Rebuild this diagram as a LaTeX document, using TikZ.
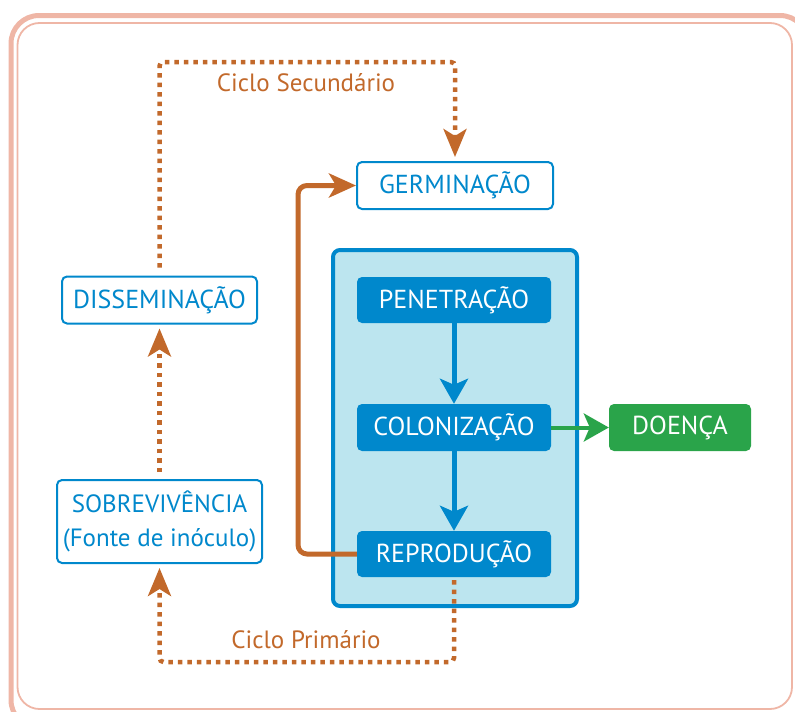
\documentclass[tikz,border=0pt]{standalone}
\usepackage{fontspec}
\setmainfont{PT Sans}
\usetikzlibrary{arrows.meta}

\definecolor{salmon}{HTML}{EFB6A6}
\definecolor{rust}{HTML}{C2692B}
\definecolor{azul}{HTML}{0088CC}
\definecolor{celeste}{HTML}{BCE5EF}
\definecolor{verde}{HTML}{2AA44A}

\begin{document}
\begin{tikzpicture}[x=1pt, y=-1pt]
    \tikzstyle{every node}=[inner sep=0pt, font=\fontsize{26}{34}\selectfont]
    \tikzstyle{openbox}=[draw=azul, line width=2pt, fill=white, rounded corners=5pt, text=azul, minimum height=47pt]
    \tikzstyle{fullbox}=[fill=azul, rounded corners=5pt, text=white, minimum width=194pt, minimum height=46pt]
    \tikzstyle{cycle}=[rust, line width=4.5pt, dash pattern=on 4.5pt off 5pt, rounded corners=4pt, -{Stealth[length=28pt, width=23pt, inset=7pt]}]
    \tikzstyle{feed}=[rust, line width=5pt, rounded corners=9pt, -{Stealth[length=27pt, width=24pt, inset=7pt]}]
    \tikzstyle{flow}=[azul, line width=5pt, -{Stealth[length=25pt, width=28pt, inset=6pt]}]
    \tikzstyle{cyclelabel}=[text=rust, font=\fontsize{25}{30}\selectfont]

    \clip (0,0) rectangle (795,712);

    % moldura
    \draw[salmon, line width=5pt, rounded corners=28pt] (11,15.5) rectangle (808,728);
    \draw[salmon, line width=1.8pt, rounded corners=22pt] (17.5,23) rectangle (792,709);

    \node[draw=azul, line width=4pt, fill=celeste, rounded corners=7pt, minimum width=244pt, minimum height=356pt] (panel) at (455,428) {};

    \node[openbox, minimum width=196pt] (germ) at (455,185.5) {GERMINAÇÃO};
    \node[openbox, minimum width=195pt] (dissem) at (159.5,300) {DISSEMINAÇÃO};
    \node[openbox, minimum width=205pt, minimum height=83pt, align=center, font=\fontsize{25}{34}\selectfont] (sobrev) at (159.5,521.5) {SOBREVIVÊNCIA\\(Fonte de inóculo)};

    \node[fullbox] (penet) at (454,300) {PENETRAÇÃO};
    \node[fullbox, minimum height=47pt] (coloniz) at (454,427.5) {COLONIZAÇÃO};
    \node[fullbox] (reprod) at (454,554) {REPRODUÇÃO};
    \node[fullbox, fill=verde, minimum width=142pt, minimum height=47pt] (doenca) at (680,427.5) {DOENÇA};

    \coordinate (sectop) at (300,62);
    \coordinate (pribot) at (300,662);
    \coordinate (turn) at (298,370);

    \draw[flow] (penet) -- (coloniz);
    \draw[flow] (coloniz) -- (reprod);
    \draw[flow, verde, line width=4pt] (coloniz) -- (doenca);

    \draw[feed] (reprod.west) -| (turn) |- (germ.west);

    \draw[cycle, shorten <=8pt, shorten >=4pt] (dissem.north) |- (sectop) -| (germ.north);
    \draw[cycle, shorten <=3pt, shorten >=4pt] (reprod.south) |- (pribot) -| (sobrev.south);
    \draw[cycle, shorten <=7pt, shorten >=4pt] (sobrev.north) -- (dissem.south);

    \node[cyclelabel] (seclabel) at (306,83) {Ciclo Secundário};
    \node[cyclelabel] (prilabel) at (306,640) {Ciclo Primário};
\end{tikzpicture}
\end{document}
